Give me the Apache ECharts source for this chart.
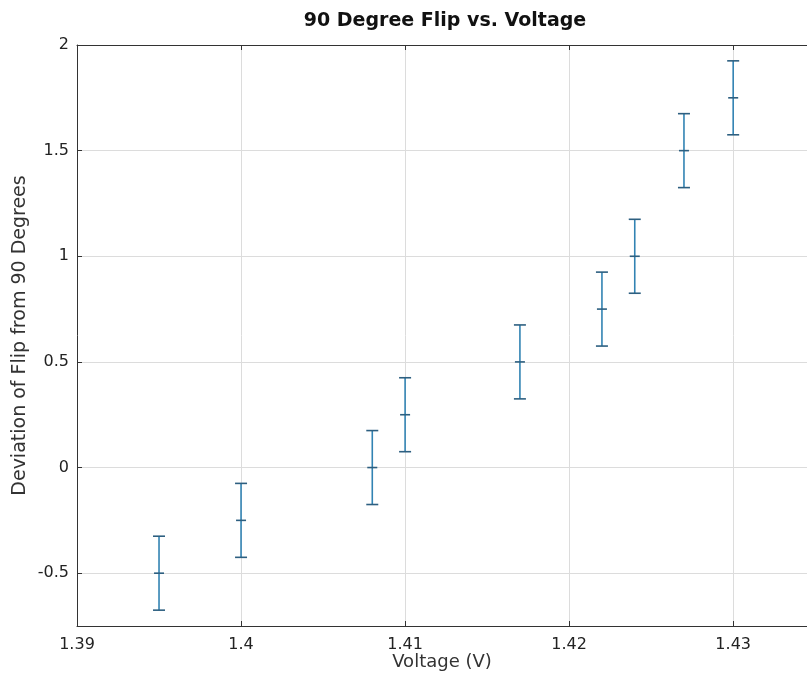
<!DOCTYPE html>
<html>
<head>
<meta charset="utf-8">
<script src="https://cdn.jsdelivr.net/npm/echarts@6/dist/echarts.min.js"></script>
<style>
html,body{margin:0;padding:0;background:#fff;}
#chart{width:807px;height:683px;}
</style>
</head>
<body>
<div id="chart"></div>
<script>
// Data
var voltage = [1.395, 1.400, 1.408, 1.410, 1.417, 1.422, 1.424, 1.427, 1.430];
var deviation = [-0.5, -0.25, 0, 0.25, 0.5, 0.75, 1.0, 1.5, 1.75];
var errors = [0.175, 0.175, 0.175, 0.175, 0.175, 0.175, 0.175, 0.175, 0.175];
var xTicks = [1.39, 1.40, 1.41, 1.42, 1.43];
var yTicks = [-0.5, 0, 0.5, 1, 1.5, 2];

var font = 'DejaVu Sans';
var seriesData = voltage.map(function (v, i) { return [v, deviation[i], errors[i]]; });

var chart = echarts.init(document.getElementById('chart'), null, {renderer: 'canvas'});

function renderErr(params, api) {
  var x = api.value(0), y = api.value(1), e = api.value(2);
  var top = api.coord([x, y + e]);
  var bot = api.coord([x, y - e]);
  var mid = api.coord([x, y]);
  var cw = 6, mw = 5;
  var st = {stroke: '#3283b3', lineWidth: 1.6};
  var cs = {stroke: '#2d5f80', lineWidth: 1.6};
  return {
    type: 'group',
    children: [
      {type: 'line', shape: {x1: top[0], y1: top[1], x2: bot[0], y2: bot[1]}, style: st},
      {type: 'line', shape: {x1: top[0] - cw, y1: top[1], x2: top[0] + cw, y2: top[1]}, style: cs},
      {type: 'line', shape: {x1: bot[0] - cw, y1: bot[1], x2: bot[0] + cw, y2: bot[1]}, style: cs},
      {type: 'line', shape: {x1: mid[0] - mw, y1: mid[1], x2: mid[0] + mw, y2: mid[1]}, style: cs}
    ]
  };
}

chart.setOption({
  animation: false,
  backgroundColor: '#fff',
  title: {
    text: '90 Degree Flip vs. Voltage',
    left: 440, top: 7, textAlign: 'center',
    textStyle: {fontFamily: font, fontWeight: 'bold', fontSize: 19, color: '#111'}
  },
  grid: {left: 77, right: 0, top: 45, bottom: 57, containLabel: false, outerBoundsMode: 'none'},
  xAxis: [{
    type: 'value', min: 1.39, max: 1.4345,
    name: 'Voltage (V)', nameLocation: 'middle', nameGap: 27, nameMoveOverlap: false,
    nameTextStyle: {fontFamily: font, fontSize: 18, color: '#333'},
    axisLine: {show: true, onZero: false, lineStyle: {color: '#333', width: 1}},
    axisTick: {show: true, inside: true, length: 5, lineStyle: {color: '#333'}, customValues: xTicks},
    axisLabel: {fontFamily: font, fontSize: 16, color: '#222', margin: 11, customValues: xTicks,
      formatter: function (v) { return String(+v.toFixed(2)); }},
    splitLine: {show: true, lineStyle: {color: '#dcdcdc', width: 1}}
  }, {
    type: 'value', min: 1.39, max: 1.4345, position: 'top',
    axisLine: {show: true, onZero: false, lineStyle: {color: '#333', width: 1}},
    axisTick: {show: true, inside: true, length: 5, lineStyle: {color: '#333'}, customValues: xTicks},
    axisLabel: {show: false},
    splitLine: {show: false}
  }],
  yAxis: {
    type: 'value', min: -0.75, max: 2,
    name: 'Deviation of Flip from 90 Degrees', nameLocation: 'middle', nameGap: 47, nameMoveOverlap: false,
    nameTextStyle: {fontFamily: font, fontSize: 19, color: '#333'},
    axisLine: {show: true, onZero: false, lineStyle: {color: '#333', width: 1}},
    axisTick: {show: true, inside: true, length: 5, lineStyle: {color: '#333'}, customValues: yTicks},
    axisLabel: {fontFamily: font, fontSize: 16, color: '#222', margin: 8, customValues: yTicks,
      formatter: function (v) { return String(+v.toFixed(2)); }},
    splitLine: {show: true, lineStyle: {color: '#dcdcdc', width: 1}}
  },
  series: [{
    type: 'custom',
    xAxisIndex: 0,
    renderItem: renderErr,
    encode: {x: 0, y: [1]},
    data: seriesData,
    clip: false
  }]
});
</script>
</body>
</html>
